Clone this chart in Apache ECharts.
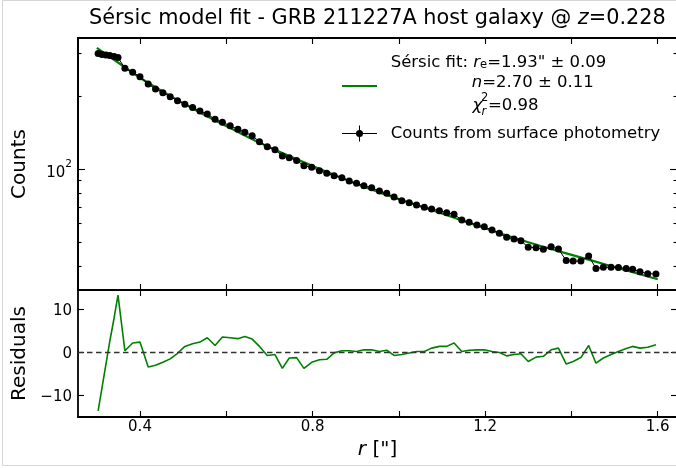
<!DOCTYPE html>
<html><head><meta charset="utf-8">
<script src="https://cdn.jsdelivr.net/npm/echarts@6/dist/echarts.min.js"></script>
<style>html,body{margin:0;padding:0;background:#fff}#c{width:676px;height:468px}</style>
</head><body><div id="c"></div>
<script>
// ---------- data ----------
const radius = [0.303,0.312,0.321,0.330,0.340,0.349,
 0.365,0.383,0.400,0.419,0.436,0.453,0.470,0.487,0.504,0.522,0.539,0.556,0.574,0.591,0.609,0.627,0.643,0.660,0.677,0.695,
 0.713,0.730,0.746,0.763,0.780,0.798,0.816,0.833,0.850,0.868,0.885,0.902,0.919,0.937,0.955,0.972,0.989,1.007,1.024,1.041,
 1.059,1.076,1.094,1.111,1.128,1.146,1.163,1.181,1.198,1.216,1.233,1.250,1.267,1.283,1.300,1.318,1.335,1.353,1.370,1.388,
 1.404,1.422,1.440,1.457,1.474,1.492,1.509,1.527,1.542,1.559,1.577,1.596];
const counts = [299.6,296.8,295.4,294.0,291.2,288.5,
 260.4,250.7,240.5,224.4,214.1,206.7,199.0,191.6,185.1,179.6,173.8,168.9,160.6,156.1,151.1,146.1,142.0,137.5,129.9,123.9,
 120.4,113.4,111.6,108.7,103.5,101.9,98.7,96.3,94.1,92.4,89.5,87.6,85.6,84.0,81.4,79.7,76.9,74.3,72.9,71.3,
 69.8,68.7,67.6,66.3,65.3,61.9,60.5,59.0,58.0,56.3,54.5,52.5,51.7,50.8,47.8,47.6,46.9,48.0,47.0,42.1,
 41.9,41.9,44.0,39.1,39.5,39.5,39.4,39.1,38.8,37.9,37.2,37.1];
const residuals = [-13.6,-8.2,-2.8,2.6,8.0,13.3,
 0.4,2.2,2.4,-3.4,-3.0,-2.3,-1.5,-0.2,1.4,2.0,2.4,3.4,1.6,3.6,3.4,3.2,3.7,3.1,1.4,-0.7,
 -0.5,-3.7,-1.3,-1.2,-3.7,-2.3,-1.7,-1.6,-0.1,0.4,0.4,0.2,0.6,0.6,0.2,0.5,-0.7,-0.5,-0.15,0.2,
 0.2,1.0,1.4,1.4,2.2,0.2,0.5,0.6,0.6,0.2,0.0,-0.8,-0.5,-0.3,-2.1,-1.1,-0.9,0.6,1.0,-2.7,
 -2.1,-1.2,1.6,-2.5,-1.3,-0.5,0.2,0.9,1.4,1.0,1.2,1.8];
const modelR = [0.30,0.35,0.40,0.47,0.54,0.61,0.68,0.75,0.82,0.89,0.96,1.03,1.10,1.17,1.24,1.31,1.38,1.45,1.52,1.60];
const modelCounts = [316,274.4,238.1,200.5,171.0,147.6,127.9,112.5,99.8,88.7,79.8,72.4,65.8,59.6,54.2,49.5,45.5,42.0,38.7,35.3];

const xTickVals = [0.4,0.6,0.8,1.0,1.2,1.4,1.6];
const xLabelVals = [0.4,0.8,1.2,1.6];
const yMajorVals = [100];
const yMinorVals = [40,50,60,70,80,90,200,300];
const resTickVals = [-10,0,10];

// ---------- layout ----------
const FONT = 'DejaVu Sans';
const X_MIN = 0.2563, X_MAX = 1.6448;
const Y_MIN = 31.87, Y_MAX = 347.0;
const R_MIN = -15, R_MAX = 14.5;
const GL = 78, GW = 599;

const chart = echarts.init(document.getElementById('c'), null, {renderer:'canvas', width:676, height:468});

function xAx(gridIndex, position, withLabels, name) {
  return {
    type:'value', gridIndex, position, min:X_MIN, max:X_MAX,
    axisLine:{show:true, onZero:false, lineStyle:{color:'#000', width:1.8}},
    axisTick:{show:true, inside:true, length:6, customValues:xTickVals, lineStyle:{color:'#000', width:1.1}},
    axisLabel:{show:withLabels, customValues:xLabelVals, fontSize:15, fontFamily:FONT, color:'#000', margin:3,
      formatter:v=>Number(v).toFixed(1)},
    splitLine:{show:false},
    name: name || '', nameLocation:'middle', nameGap:23,
    nameTextStyle:{fontSize:20, fontFamily:FONT, color:'#000',
      rich:{it:{fontSize:20, fontFamily:FONT, fontStyle:'italic', color:'#000'}}}
  };
}
function yLog(position, ticks, len, withLabels, name) {
  return {
    type:'log', logBase:10, gridIndex:0, position, min:Y_MIN, max:Y_MAX,
    axisLine:{show:true, onZero:false, lineStyle:{color:'#000', width:1.8}},
    axisTick:{show:true, inside:true, length:len, customValues:ticks, lineStyle:{color:'#000', width:1.1}},
    axisLabel:{show:withLabels, customValues:yMajorVals, margin:6, color:'#000',
      formatter:()=> '{b|10}{sup|2}',
      rich:{b:{fontSize:15, fontFamily:FONT, color:'#000', lineHeight:22, verticalAlign:'bottom'},
            sup:{fontSize:10.5, fontFamily:FONT, color:'#000', verticalAlign:'top'}}},
    splitLine:{show:false}, minorTick:{show:false},
    name: name || '', nameLocation:'middle', nameGap:48, nameRotate:90,
    nameTextStyle:{fontSize:20, fontFamily:FONT, color:'#000'}
  };
}
function yRes(position, withLabels, name) {
  return {
    type:'value', gridIndex:1, position, min:R_MIN, max:R_MAX,
    axisLine:{show:true, onZero:false, lineStyle:{color:'#000', width:1.8}},
    axisTick:{show:true, inside:true, length:6, customValues:resTickVals, lineStyle:{color:'#000', width:1.1}},
    axisLabel:{show:withLabels, customValues:resTickVals, margin:6, color:'#000',
      formatter:v=> '{v|' + (v < 0 ? '\u2212' + Math.abs(v) : String(v)) + '}',
      rich:{v:{fontSize:15, fontFamily:FONT, color:'#000', padding:[4,0,0,0]}}},
    splitLine:{show:false},
    name: name || '', nameLocation:'middle', nameGap:48, nameRotate:90,
    nameTextStyle:{fontSize:20, fontFamily:FONT, color:'#000'}
  };
}

const dataPts = radius.map((r,i)=>[r, counts[i]]);
const resPts = radius.map((r,i)=>[r, residuals[i]]);
const modelPts = modelR.map((r,i)=>[r, modelCounts[i]]);

const T = (x, y, text, size, extra) => ({
  type:'text', x, y, silent:true,
  style:Object.assign({text, fontSize:size, fontFamily:FONT, fill:'#000',
    textAlign:'left', align:'left', textVerticalAlign:'middle', verticalAlign:'middle'}, extra||{})
});

const LS = 16.5;
const option = {
  animation:false,
  backgroundColor:'#fff',
  textStyle:{fontFamily:FONT},
  title:{
    text:'Sérsic model fit - GRB 211227A host galaxy @ {it|z}=0.228',
    left:89, top:8, padding:0,
    textStyle:{fontSize:20.8, fontWeight:'normal', fontFamily:FONT, color:'#000',
      rich:{it:{fontSize:20.8, fontFamily:FONT, fontStyle:'italic', color:'#000'}}}
  },
  grid:[
    {left:GL, top:38, width:GW, height:252, outerBoundsMode:'none', containLabel:false},
    {left:GL, top:290, width:GW, height:127, outerBoundsMode:'none', containLabel:false}
  ],
  xAxis:[
    xAx(0,'bottom',false),
    xAx(0,'top',false),
    xAx(1,'bottom',true,'{it|r} ["]'),
    xAx(1,'top',false)
  ],
  yAxis:[
    yLog('left', yMajorVals, 7, true, 'Counts'),
    yLog('right', yMajorVals, 7, false),
    yLog('left', yMinorVals, 3.5, false),
    yLog('right', yMinorVals, 3.5, false),
    yRes('left', true, 'Residuals'),
    yRes('right', false)
  ],
  series:[
    {name:'Sérsic fit', type:'line', xAxisIndex:0, yAxisIndex:0, data:modelPts, smooth:0.3,
      showSymbol:false, symbol:'none', lineStyle:{color:'#008000', width:2.2}, z:2},
    {name:'Counts from surface photometry', type:'line', xAxisIndex:0, yAxisIndex:0, data:dataPts,
      symbol:'circle', symbolSize:7, showSymbol:true, itemStyle:{color:'#000'},
      lineStyle:{color:'#000', width:1}, z:3},
    {name:'Residuals', type:'line', xAxisIndex:2, yAxisIndex:4, data:resPts, symbol:'none',
      lineStyle:{color:'#008000', width:1.6}, z:3,
      markLine:{silent:true, symbol:'none', label:{show:false},
        lineStyle:{color:'#333', width:1.3, type:[5.5,3.5]}, data:[{yAxis:0}]}}
  ],
  graphic:[
    {type:'rect', silent:true, z:-10, shape:{x:2.5, y:0.5, width:690, height:465},
      style:{fill:'none', stroke:'#d6d6d6', lineWidth:1}},
    // legend: model
    {type:'line', silent:true, shape:{x1:342, y1:86, x2:377, y2:86}, style:{stroke:'#008000', lineWidth:2.2}},
    T(390.7, 62.5, 'Sérsic fit: {it|r}{sub|e}=1.93" ± 0.09', LS, {rich:{
      it:{fontSize:LS, fontFamily:FONT, fontStyle:'italic', fill:'#000'},
      sub:{fontSize:11.5, fontFamily:FONT, fill:'#000', verticalAlign:'bottom', padding:[6,0,0,0]}}}),
    T(471.7, 83, '{it|n}=2.70 ± 0.11', LS, {rich:{
      it:{fontSize:LS, fontFamily:FONT, fontStyle:'italic', fill:'#000'}}}),
    T(472.5, 106, 'χ', LS, {fontStyle:'italic'}),
    T(481, 98.5, '2', 11.5),
    T(481.5, 112.5, 'r', 11.5, {fontStyle:'italic'}),
    T(488, 106, '=0.98', LS),
    // legend: data
    {type:'line', silent:true, shape:{x1:342, y1:133.5, x2:377, y2:133.5}, style:{stroke:'#000', lineWidth:1}},
    {type:'line', silent:true, shape:{x1:359.5, y1:125.5, x2:359.5, y2:141.5}, style:{stroke:'#000', lineWidth:1}},
    {type:'circle', silent:true, shape:{cx:359.5, cy:133.5, r:3.5}, style:{fill:'#000'}},
    T(390.7, 133.5, 'Counts from surface photometry', LS)
  ]
};
chart.setOption(option);
</script>
</body></html>
